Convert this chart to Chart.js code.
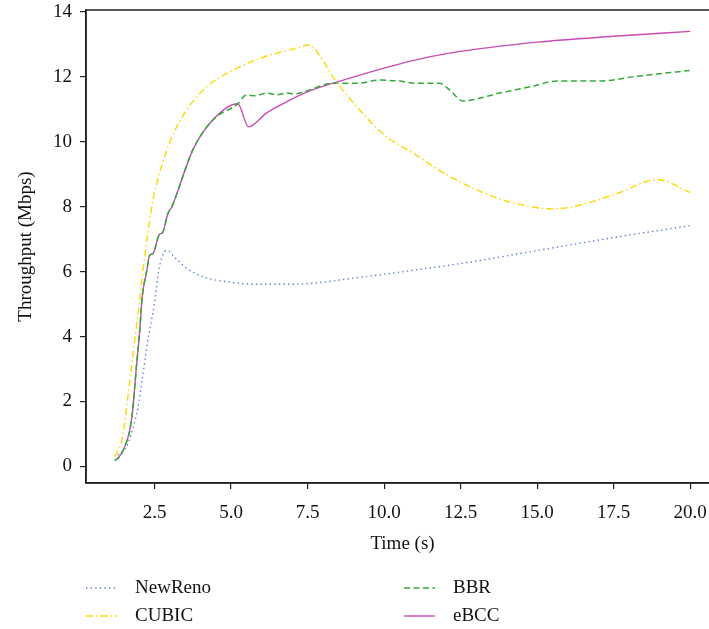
<!DOCTYPE html>
<html>
<head>
<meta charset="utf-8">
<script src="https://cdn.jsdelivr.net/npm/chart.js@4/dist/chart.umd.min.js"></script>
<style>
  html, body { margin: 0; padding: 0; background: #fff; overflow: hidden; }
  #wrap { position: relative; width: 709px; height: 629px; overflow: hidden; }
  canvas { position: absolute; left: 0; top: 0; }
</style>
</head>
<body>
<div id="wrap"><canvas id="chart" width="740" height="629"></canvas></div>
<script>
// series data (time in s, throughput in Mbps)
const seriesNames = ['NewReno', 'CUBIC', 'BBR', 'eBCC'];

const newrenoT = [1.3, 1.5, 1.65, 1.8, 1.95, 2.1, 2.27, 2.4, 2.5, 2.63, 2.76, 2.9, 3.2, 3.55, 4.13, 4.95, 5.83, 6.69, 7.5, 8.05, 9.0, 10.0, 11.0, 12.5, 15.0, 17.5, 20.0];
const newrenoV = [0.35, 0.5, 0.75, 1.2, 1.78, 2.7, 3.83, 4.5, 5.06, 6.0, 6.5, 6.65, 6.4, 6.1, 5.83, 5.68, 5.61, 5.61, 5.63, 5.68, 5.8, 5.92, 6.05, 6.25, 6.65, 7.05, 7.42];

const cubicT = [1.2, 1.46, 1.62, 1.78, 1.95, 2.1, 2.34, 2.5, 2.99, 3.55, 4.2, 5.05, 6.26, 7.0, 7.56, 8.0, 8.33, 9.2, 10.08, 10.5, 10.93, 12.04, 13.22, 14.3, 15.4, 16.17, 17.5, 18.94, 20.0];
const cubicV = [0.3, 0.92, 2.09, 3.31, 4.63, 5.86, 7.6, 8.44, 9.97, 10.98, 11.69, 12.2, 12.67, 12.85, 12.98, 12.5, 12.0, 10.98, 10.15, 9.9, 9.66, 8.99, 8.44, 8.1, 7.94, 8.0, 8.37, 8.83, 8.44];

const bbrT = [1.2, 1.35, 1.52, 1.68, 1.78, 1.91, 2.01, 2.1, 2.24, 2.34, 2.45, 2.66, 2.76, 2.94, 3.05, 3.15, 3.75, 4.4, 5.22, 5.5, 5.8, 6.16, 6.5, 6.8, 7.1, 7.47, 8.32, 9.1, 9.85, 10.5, 11.06, 11.81, 12.14, 12.57, 13.77, 14.8, 15.64, 17.04, 18.12, 19.98];
const bbrV = [0.18, 0.3, 0.6, 1.07, 1.69, 3.1, 4.13, 5.25, 6.0, 6.5, 6.56, 7.15, 7.2, 7.8, 7.97, 8.2, 9.75, 10.67, 11.17, 11.44, 11.42, 11.5, 11.45, 11.5, 11.48, 11.57, 11.8, 11.8, 11.9, 11.87, 11.8, 11.8, 11.6, 11.26, 11.5, 11.7, 11.87, 11.87, 12.0, 12.2];

const ebccT = [1.2, 1.35, 1.52, 1.68, 1.78, 1.91, 2.01, 2.1, 2.24, 2.34, 2.45, 2.66, 2.76, 2.94, 3.05, 3.15, 3.75, 4.4, 5.22, 5.57, 6.16, 6.81, 7.47, 8.77, 10.93, 12.14, 15.0, 17.5, 20.0];
const ebccV = [0.18, 0.3, 0.6, 1.07, 1.69, 3.1, 4.13, 5.25, 6.0, 6.5, 6.56, 7.15, 7.2, 7.8, 7.97, 8.2, 9.75, 10.67, 11.17, 10.46, 10.89, 11.23, 11.53, 11.93, 12.5, 12.73, 13.07, 13.25, 13.4];

const xTickVals = [2.5, 5.0, 7.5, 10.0, 12.5, 15.0, 17.5, 20.0];
const yTickVals = [0, 2, 4, 6, 8, 10, 12, 14];

const FONT = "'Liberation Serif', 'Times New Roman', serif";
const INK = '#222';

// zip two arrays into {x,y} points
function pts(t, v) {
    return t.map((x, i) => ({x: x, y: v[i]}));
}

function makeSet(name, t, v, color, dash, width) {
    return {
        label: name, data: pts(t, v),
        borderColor: color, backgroundColor: color,
        borderDash: dash, borderWidth: width,
        pointRadius: 0, fill: false,
        cubicInterpolationMode: 'monotone'
    };
}

// legend drawn under the axes in two columns
const legendSpots = [[86, 588], [86, 616], [404, 588], [404, 616]];
const bottomLegend = {
    id: 'bottomLegend',
    afterDraw(chart) {
        const ctx = chart.ctx;
        ctx.save();
        chart.data.datasets.forEach((ds, i) => {
            const [x, y] = legendSpots[i];
            ctx.strokeStyle = ds.borderColor;
            ctx.lineWidth = ds.borderWidth;
            ctx.setLineDash(ds.borderDash);
            ctx.beginPath();
            ctx.moveTo(x, y);
            ctx.lineTo(x + 31, y);
            ctx.stroke();
            ctx.setLineDash([]);
            ctx.fillStyle = '#111';
            ctx.font = '19px ' + FONT;
            ctx.textBaseline = 'middle';
            ctx.fillText(ds.label, x + 49, y);
        });
        ctx.restore();
    }
};

// box round the plot (top and right spines)
const frame = {
    id: 'frame',
    afterDraw(chart) {
        const a = chart.chartArea, ctx = chart.ctx;
        ctx.save();
        ctx.strokeStyle = INK;
        ctx.lineWidth = 1.5;
        ctx.strokeRect(a.left, a.top, a.right - a.left, a.bottom - a.top);
        ctx.restore();
    }
};

const ctx = document.getElementById('chart');
new Chart(ctx, {
    type: 'line',
    data: {
        datasets: [
            makeSet(seriesNames[0], newrenoT, newrenoV, '#5b7fd6', [1.4, 3.2], 1.4),
            makeSet(seriesNames[1], cubicT, cubicV, '#ffd700', [7, 3, 1.5, 3], 1.4),
            makeSet(seriesNames[2], bbrT, bbrV, '#36a83a', [6, 3.5], 1.5),
            makeSet(seriesNames[3], ebccT, ebccV, '#c94cb2', [], 1.4)
        ]
    },
    options: {
        responsive: false,
        animation: false,
        layout: {padding: {left: 0, top: 10, right: 21, bottom: 71}},
        plugins: {legend: {display: false}, tooltip: {enabled: false}},
        scales: {
            x: {
                type: 'linear', min: 0.26, max: 20.94,
                afterBuildTicks: s => { s.ticks = xTickVals.map(v => ({value: v})); },
                afterFit: s => { s.height = 75; s.paddingLeft = 0; s.paddingRight = 0; },
                grid: {drawOnChartArea: false, drawTicks: true, tickLength: 6, color: INK, lineWidth: 1.2},
                border: {display: true, color: INK, width: 1.5},
                ticks: {color: '#111', font: {family: FONT, size: 19}, padding: 13, maxRotation: 0,
                        callback: v => v.toFixed(1)},
                title: {display: true, text: 'Time (s)', color: '#111', font: {family: FONT, size: 19}, padding: {top: 0, bottom: 3}}
            },
            y: {
                type: 'linear', min: -0.51, max: 14.06,
                afterBuildTicks: s => { s.ticks = yTickVals.map(v => ({value: v})); },
                afterFit: s => { s.width = 86; s.paddingTop = 0; s.paddingBottom = 0; },
                grid: {drawOnChartArea: false, drawTicks: true, tickLength: 6, color: INK, lineWidth: 1.2},
                border: {display: true, color: INK, width: 1.5},
                ticks: {color: '#111', font: {family: FONT, size: 19}, padding: 8},
                title: {display: true, text: 'Throughput (Mbps)', color: '#111', font: {family: FONT, size: 19}, padding: {top: 15, bottom: 0}}
            }
        }
    },
    plugins: [bottomLegend, frame]
});
</script>
</body>
</html>
